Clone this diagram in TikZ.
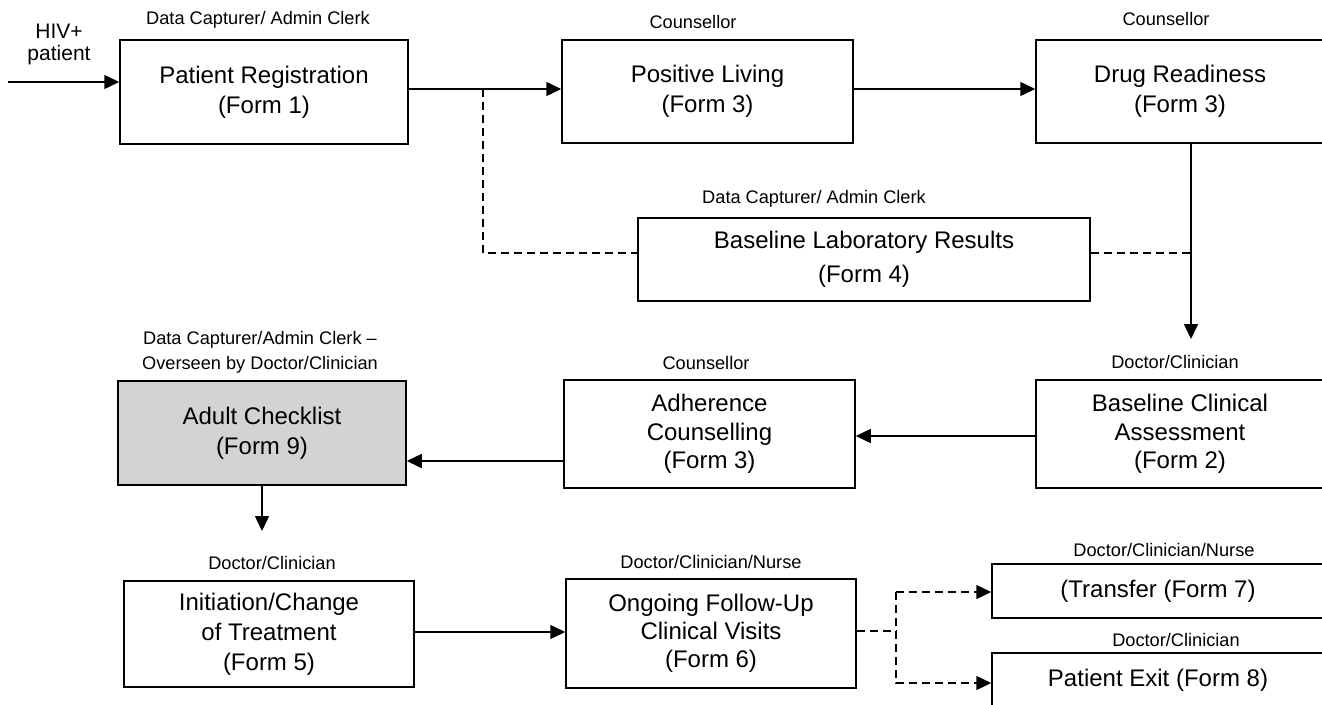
\documentclass[tikz,border=0pt]{standalone}
\usepackage{fontspec}
\setmainfont{Liberation Sans}
\usetikzlibrary{arrows.meta}
\definecolor{boxgray}{RGB}{211,211,211}
\begin{document}
\begin{tikzpicture}[x=1pt,y=-1pt,
  box/.style={draw,line width=1.5pt,align=center,inner sep=0pt,font=\fontsize{24}{30}\selectfont},
  lbl/.style={font=\fontsize{18.2}{25}\selectfont,inner sep=0pt,align=center},
  arr/.style={line width=1.5pt,-{Triangle[length=15pt,width=14pt]}},
  dsh/.style={line width=1.5pt,dash pattern=on 8pt off 5pt},
  darr/.style={dsh,-{Triangle[length=15pt,width=14pt]}}]
\useasboundingbox (0,0) rectangle (1322,704);
\clip (0,0) rectangle (1322,704);
% boxes
\node[box,minimum width=288pt,minimum height=104pt] (pr) at (264,92) {Patient Registration\\(Form 1)};
\node[box,minimum width=291pt,minimum height=103pt] (pl) at (707.5,91.5) {Positive Living\\(Form 3)};
\node[box,minimum width=288pt,minimum height=103pt] (dr) at (1180,91.5) {Drug Readiness\\(Form 3)};
\node[box,minimum width=452pt,minimum height=83pt,font=\fontsize{24}{34}\selectfont] (lab) at (864,259.5) {Baseline Laboratory Results\\(Form 4)};
\node[box,fill=boxgray,minimum width=288pt,minimum height=104pt] (adult) at (262,433) {Adult Checklist\\(Form 9)};
\node[box,minimum width=291pt,minimum height=108pt,font=\fontsize{24}{28.5}\selectfont] (adh) at (709.5,434) {Adherence\\Counselling\\(Form 3)};
\node[box,minimum width=288pt,minimum height=108pt,font=\fontsize{24}{28.5}\selectfont] (bca) at (1180,434) {Baseline Clinical\\Assessment\\(Form 2)};
\node[box,minimum width=290pt,minimum height=106pt] (init) at (269,634) {Initiation/Change\\ of Treatment\\(Form 5)};
\node[box,minimum width=290pt,minimum height=109pt,font=\fontsize{24}{28}\selectfont] (og) at (711,633.5) {Ongoing Follow-Up\\Clinical Visits\\(Form 6)};
\node[box,minimum width=332pt,minimum height=54pt] (tr) at (1158,591) {(Transfer (Form 7)};
\node[box,minimum width=332pt,minimum height=54pt] (ex) at (1158,680) {Patient Exit (Form 8)};
% role labels
\node[lbl,font=\fontsize{21}{22}\selectfont] (hiv) at (59,44) {HIV+\\patient};
\node[lbl] (l1) at (258,20) {Data Capturer/ Admin Clerk};
\node[lbl] (l2) at (693,22) {Counsellor};
\node[lbl] (l3) at (1166,19) {Counsellor};
\node[lbl] (l4) at (814,199) {Data Capturer/ Admin Clerk};
\node[lbl] (l5) at (260,352) {Data Capturer/Admin Clerk \textendash\\Overseen by Doctor/Clinician};
\node[lbl] (l6) at (706,363) {Counsellor};
\node[lbl] (l7) at (1175,362) {Doctor/Clinician};
\node[lbl] (l8) at (272,563) {Doctor/Clinician};
\node[lbl] (l9) at (711,562) {Doctor/Clinician/Nurse};
\node[lbl] (l10) at (1164,550) {Doctor/Clinician/Nurse};
\node[lbl] (l11) at (1176,640) {Doctor/Clinician};
% helper coordinates
\coordinate (start) at (8,82);
\coordinate (r1) at (0,89);
\coordinate (j1) at (483,89);
\coordinate (dl) at (0,253);
\coordinate (vx) at (1191,0);
\coordinate (tip1) at (1191,339);
\coordinate (tip2) at (262,531);
\coordinate (r2) at (0,436);
\coordinate (r3) at (0,461);
\coordinate (r4) at (0,632);
\coordinate (sp) at (896,631);
\coordinate (rt) at (0,592);
\coordinate (rx) at (0,683);
% connectors
\draw[arr] (start) -- (start -| pr.west);
\draw[arr] (pr.east |- r1) -- (pl.west |- r1);
\draw[arr] (pl.east |- r1) -- (dr.west |- r1);
\draw[dsh] (j1) -- (j1 |- dl) -- (lab.west |- dl);
\draw[dsh] (lab.east |- dl) -- (vx |- dl);
\draw[arr] (vx |- dr.south) -- (tip1);
\draw[arr] (bca.west |- r2) -- (adh.east |- r2);
\draw[arr] (adh.west |- r3) -- (adult.east |- r3);
\draw[arr] (tip2 |- adult.south) -- (tip2);
\draw[arr] (init.east |- r4) -- (og.west |- r4);
\draw[dsh] (og.east |- sp) -- (sp);
\draw[darr] (sp |- rt) -- (tr.west |- rt);
\draw[darr] (sp |- rt) -- (sp |- rx) -- (ex.west |- rx);
\end{tikzpicture}
\end{document}
